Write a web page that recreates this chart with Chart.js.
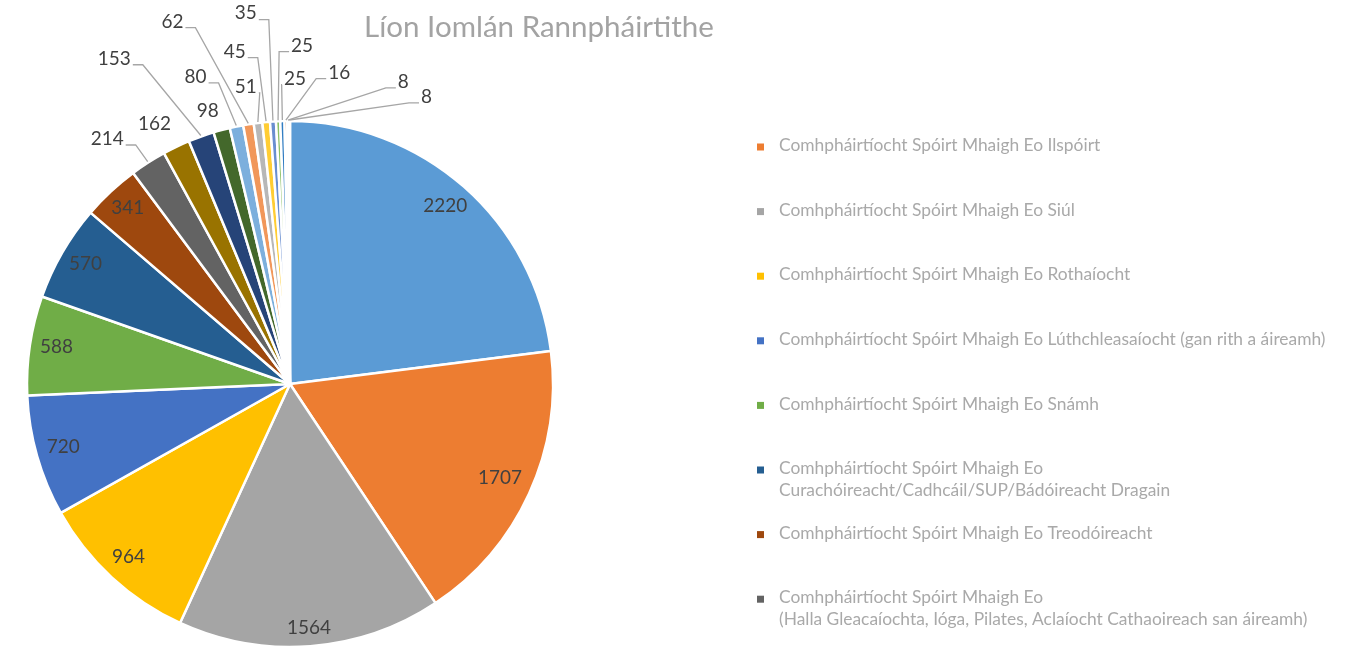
<!DOCTYPE html>
<html>
<head>
<meta charset="utf-8">
<title>Líon Iomlán Rannpháirtithe</title>
<script src="https://cdn.jsdelivr.net/npm/chart.js@4.4.1/dist/chart.umd.min.js"></script>
<style>
  html, body { margin: 0; padding: 0; background: #fff; }
  #wrap { width: 1358px; height: 647px; }
</style>
</head>
<body>
<div id="wrap"><canvas id="pie" width="1358" height="647"></canvas></div>
<script>
const chartTitle = 'Líon Iomlán Rannpháirtithe';

// only these entries are visible in the legend of the original, the others stay blank
const categories = [
    '',
    'Comhpháirtíocht Spóirt Mhaigh Eo Ilspóirt',
    'Comhpháirtíocht Spóirt Mhaigh Eo Siúl',
    'Comhpháirtíocht Spóirt Mhaigh Eo Rothaíocht',
    'Comhpháirtíocht Spóirt Mhaigh Eo Lúthchleasaíocht (gan rith a áireamh)',
    'Comhpháirtíocht Spóirt Mhaigh Eo Snámh',
    'Comhpháirtíocht Spóirt Mhaigh Eo\nCurachóireacht/Cadhcáil/SUP/Bádóireacht Dragain',
    'Comhpháirtíocht Spóirt Mhaigh Eo Treodóireacht',
    'Comhpháirtíocht Spóirt Mhaigh Eo\n(Halla Gleacaíochta, Ióga, Pilates, Aclaíocht Cathaoireach san áireamh)',
    '', '', '', '', '', '', '', '', '', '', '', '', ''
];

const participants = [2220, 1707, 1564, 964, 720, 588, 570, 341, 214, 162, 153,
    98, 80, 62, 51, 45, 35, 25, 25, 16, 8, 8];

const sliceColours = [
    '#5B9BD5', '#ED7D31', '#A5A5A5', '#FFC000', '#4472C4', '#70AD47',
    '#255E91', '#9E480E', '#636363', '#997300', '#264478', '#43682B',
    '#7CAFDD', '#F1975A', '#B7B7B7', '#FFCD33', '#698ED0', '#8CC168',
    '#327DC2', '#D26012', '#848484', '#CC9A00'
];

const FONT = 'Lato, "Open Sans", sans-serif';

function fitFont(ctx, text, width) {
    ctx.font = `20px ${FONT}`;
    const w = ctx.measureText(text).width;
    return 20 * width / w;
}

// draws the title, the legend on the right and the value labels
const decorPlugin = {
    id: 'decor',
    afterDraw(chart, args, opts) {
        const ctx = chart.ctx;
        ctx.save();

        // title
        const tSize = fitFont(ctx, chartTitle, opts.titleWidth);
        ctx.font = `${tSize}px ${FONT}`;
        ctx.fillStyle = '#a3a3a3';
        ctx.textAlign = 'center';
        ctx.textBaseline = 'alphabetic';
        ctx.fillText(chartTitle, opts.titleX, opts.titleBaseline);

        // legend
        let widest = '';
        ctx.font = `20px ${FONT}`;
        categories.forEach(c => c.split('\n').forEach(line => {
            if (ctx.measureText(line).width > ctx.measureText(widest).width) widest = line;
        }));
        const lSize = fitFont(ctx, widest, opts.legendTextWidth);
        ctx.font = `${lSize}px ${FONT}`;
        ctx.textAlign = 'left';
        ctx.textBaseline = 'middle';
        let slot = 0;
        categories.forEach((c, i) => {
            if (!c) return;
            const y = opts.legendTop + slot * opts.legendPitch;
            ctx.fillStyle = sliceColours[i];
            ctx.fillRect(opts.legendX, y - 2, 7, 7);
            ctx.fillStyle = '#a9a9a9';
            c.split('\n').forEach((line, j) => {
                ctx.fillText(line, opts.legendX + 22, y + j * opts.legendLine);
            });
            slot++;
        });

        // value labels
        const total = participants.reduce((a, b) => a + b, 0);
        const lbSize = fitFont(ctx, '1564', opts.labelSample);
        ctx.font = `${lbSize}px ${FONT}`;
        const asc = ctx.measureText('0').actualBoundingBoxAscent;
        ctx.textAlign = 'center';
        ctx.textBaseline = 'alphabetic';
        const meta = chart.getDatasetMeta(0);
        let outside = 0;
        meta.data.forEach((arc, i) => {
            const p = arc.getProps(['x', 'y', 'startAngle', 'endAngle', 'outerRadius'], true);
            const mid = (p.startAngle + p.endAngle) / 2;
            const cs = Math.cos(mid), sn = Math.sin(mid);
            const text = String(participants[i]);
            const hw = ctx.measureText(text).width / 2;
            const hh = asc / 2 + 1;
            let cx, cy;
            if (participants[i] / total > 0.03) {
                const d = p.outerRadius - 10 - (Math.abs(cs) * hw + Math.abs(sn) * hh);
                cx = p.x + cs * d;
                cy = p.y + sn * d;
            } else {
                const spot = opts.outsideSpots[outside++];
                cx = p.x + spot[0] * p.outerRadius;
                cy = p.y + spot[1] * p.outerRadius;
                const ax = p.x + cs * (p.outerRadius + 1);
                const ay = p.y + sn * (p.outerRadius + 1);
                const left = cx - hw, right = cx + hw, bottom = cy + hh;
                const gapX = Math.max(left - ax, ax - right, 0);
                const gapY = Math.max(ay - bottom, 0);
                if (Math.hypot(gapX, gapY) > 18) {
                    ctx.strokeStyle = '#a6a6a6';
                    ctx.lineWidth = 1.3;
                    ctx.beginPath();
                    if (ax >= left && ax <= right) {
                        ctx.moveTo(ax, bottom + 2);
                        ctx.lineTo(ax, ay);
                    } else {
                        const dir = ax < left ? -1 : 1;
                        const sx = (dir < 0 ? left - 2 : right + 2);
                        const sy = cy + 4;
                        const ex = sx + dir * Math.min(10, Math.abs(ax - sx));
                        ctx.moveTo(sx, sy);
                        ctx.lineTo(ex, sy);
                        ctx.lineTo(ax, ay);
                    }
                    ctx.stroke();
                }
            }
            ctx.fillStyle = '#404040';
            ctx.fillText(text, cx, cy + asc / 2);
        });
        ctx.restore();
    }
};

new Chart(document.getElementById('pie'), {
    type: 'pie',
    data: {
        labels: categories,
        datasets: [{
            data: participants,
            backgroundColor: sliceColours,
            borderColor: '#ffffff',
            borderWidth: 2.5
        }]
    },
    options: {
        responsive: false,
        animation: false,
        devicePixelRatio: 1,
        radius: 263,
        layout: { padding: { left: 27, right: 805, top: 121, bottom: 0 } },
        plugins: {
            legend: { display: false },
            title: { display: false },
            tooltip: { enabled: false },
            decor: {
                titleX: 539,
                titleBaseline: 37,
                titleWidth: 350,
                legendX: 757,
                legendTop: 145.5,
                legendPitch: 64.6,
                legendLine: 22,
                legendTextWidth: 547,
                labelSample: 44,
                outsideSpots: [
                    [-0.695, -0.924], [-0.515, -0.981], [-0.668, -1.229], [-0.313, -1.031],
                    [-0.359, -1.160], [-0.447, -1.370], [-0.168, -1.122], [-0.210, -1.256],
                    [-0.168, -1.401], [0.046, -1.279], [0.019, -1.153], [0.187, -1.176],
                    [0.431, -1.141], [0.519, -1.084]
                ]
            }
        }
    },
    plugins: [decorPlugin]
});
</script>
</body>
</html>
